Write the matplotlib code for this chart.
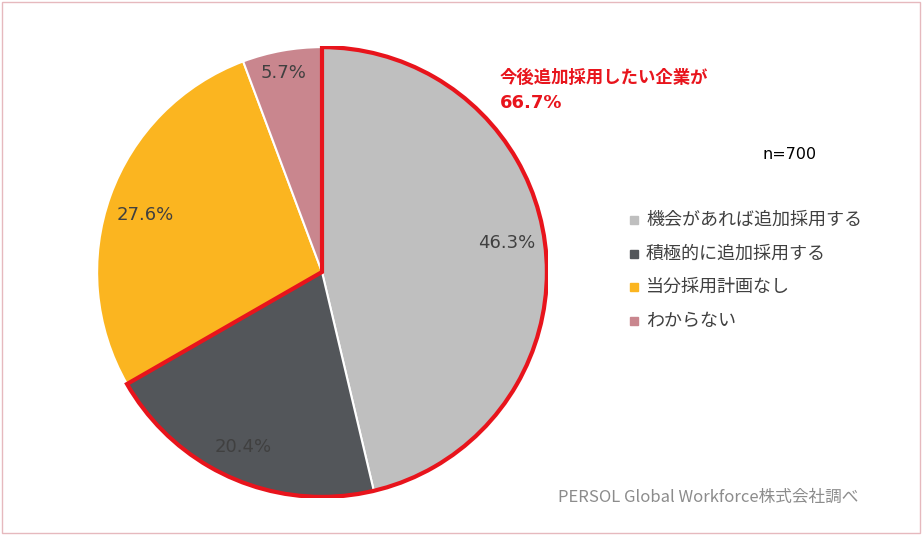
import matplotlib.pyplot as plt
from matplotlib.patches import Wedge, Rectangle

plt.rcParams['font.family'] = ['Noto Sans CJK JP', 'DejaVu Sans']

labels = ['機会があれば追加採用する', '積極的に追加採用する', '当分採用計画なし', 'わからない']
values = [46.3, 20.4, 27.6, 5.7]
colors = ['#BFBFBF', '#53565A', '#FBB520', '#C9868E']
pct_pos = [(507, 243), (243, 447), (145, 215), (283, 73)]

W, H = 922, 535
fig = plt.figure(figsize=(W / 100, H / 100), dpi=100)


def px(x, y):
    return x / W, 1 - y / H


cx, cy, r = 322, 272, 226
ax = fig.add_axes([(cx - r) / W, (H - cy - r) / H, 2 * r / W, 2 * r / H])
ax.pie(values, colors=colors, startangle=90, counterclock=False,
       wedgeprops=dict(edgecolor='white', linewidth=1.5), radius=1)
# red outline around the two "yes" slices
span = (values[0] + values[1]) / 100 * 360
ax.add_patch(Wedge((0, 0), 1.0, 90 - span, 90, fill=False,
                   edgecolor='#E8141C', linewidth=3, zorder=5))
ax.set_xlim(-1.005, 1.005)
ax.set_ylim(-1.005, 1.005)
ax.set_aspect('equal')
ax.axis('off')

for v, (x, y) in zip(values, pct_pos):
    fig.text(*px(x, y), f'{v}%', ha='center', va='center', fontsize=13,
             color='#404040', family=['DejaVu Sans'])

fig.text(*px(500, 78), '今後追加採用したい企業が', color='#E8141C', fontsize=12.5,
         fontweight='bold', va='center')
fig.text(*px(500, 103), '66.7%', color='#E8141C', fontsize=13,
         fontweight='bold', va='center', family=['DejaVu Sans'])
fig.text(*px(763, 155), 'n=700', fontsize=11.5, va='center', family=['DejaVu Sans'])

for i, (lab, c) in enumerate(zip(labels, colors)):
    y = 220 + i * 33.5
    fig.patches.append(Rectangle(px(630, y + 4), 8 / W, 8 / H, color=c,
                                 transform=fig.transFigure, figure=fig))
    fig.text(*px(646, y), lab, fontsize=13, va='center', color='#404040')

fig.text(*px(558, 497), 'PERSOL Global Workforce株式会社調べ', fontsize=12,
         va='center', color='#8C8C8C')

fig.patches.append(Rectangle((0.002, 0.003), 0.996, 0.994, fill=False,
                             edgecolor='#E6B9BE', linewidth=1,
                             transform=fig.transFigure, figure=fig))

fig.savefig('out.png', dpi=100)
